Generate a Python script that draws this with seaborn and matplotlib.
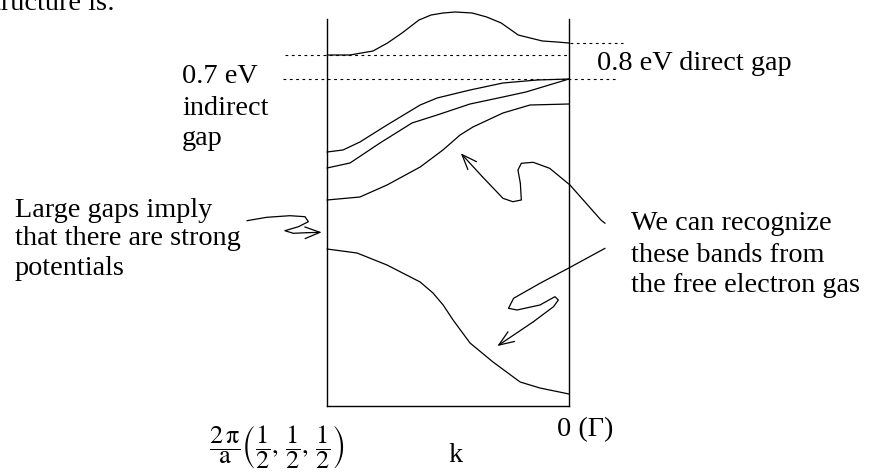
import numpy as np
import pandas as pd
import matplotlib
matplotlib.use("Agg")
import matplotlib.pyplot as plt
import seaborn as sns

# ---------------- data (k: 0 = L point, 1 = Gamma ; E: arbitrary units) -------------
band_top_k = [0.0, 0.095, 0.19, 0.25, 0.31, 0.38, 0.43, 0.48, 0.53, 0.60, 0.66, 0.72, 0.79, 0.89, 0.95, 1.0]
band_top_E = [351, 351, 355, 363, 373, 386, 391, 393, 394, 393, 389, 383, 371, 365, 364, 363]

band_v1_k = [0.0, 0.066, 0.136, 0.248, 0.385, 0.455, 0.591, 0.727, 0.868, 1.0]
band_v1_E = [254, 256, 264, 281, 301, 308, 316, 323, 326, 327]

band_v2_k = [0.0, 0.095, 0.219, 0.351, 0.455, 0.591, 0.727, 0.822, 1.0]
band_v2_E = [238, 243, 263, 283, 291, 302, 309, 314, 327]

band_v3_k = [0.0, 0.136, 0.248, 0.385, 0.479, 0.550, 0.603, 0.727, 0.839, 1.0]
band_v3_E = [206, 209, 221, 239, 256, 271, 279, 293, 301, 302]

band_low_k = [0.0, 0.124, 0.248, 0.385, 0.438, 0.480, 0.521, 0.591, 0.686, 0.798, 0.880, 1.0]
band_low_E = [157, 153, 141, 124, 113, 101, 86, 63, 44, 24, 18, 12]

# dashed reference levels (E) and their k extents
level_E = [363, 351, 327]
level_k0 = [1.004, -0.174, -0.182]
level_k1 = [1.223, 1.0, 1.198]

# hand-drawn annotation arrows (k, E)
arrow_gap_k = [-0.331, -0.249, -0.153, -0.091, -0.077, -0.118, -0.174, -0.139, -0.084, -0.022]
arrow_gap_E = [185.3, 188.7, 190.3, 189.3, 184.3, 179.3, 175.3, 172.7, 173.3, 173.7]

arrow_up_k = [1.149, 1.132, 1.004, 0.920, 0.852, 0.803, 0.789, 0.799, 0.803, 0.768, 0.727, 0.642, 0.553]
arrow_up_E = [182.7, 186.0, 221.0, 237.7, 243.7, 242.7, 236.0, 222.7, 206.0, 204.3, 207.7, 229.3, 252.7]

arrow_low_k = [1.149, 0.997, 0.880, 0.771, 0.750, 0.785, 0.880, 0.942, 0.956, 0.936, 0.853, 0.704]
arrow_low_E = [157.7, 137.7, 122.7, 107.7, 97.7, 96.0, 101.0, 109.3, 106.0, 99.3, 84.3, 60.0]

# ---------------- figure ----------------
W, H, DPI = 869, 475, 100
sns.set_theme(style="white")
plt.rcParams["font.family"] = ["Liberation Serif", "DejaVu Serif"]
plt.rcParams["mathtext.fontset"] = "stix"

fig = plt.figure(figsize=(W / DPI, H / DPI), dpi=DPI)
fig.patch.set_facecolor("white")
ax = fig.add_axes([327 / W, (H - 406) / H, 242 / W, 387 / H])
ax.set_facecolor("white")

bands = [(band_top_k, band_top_E), (band_v1_k, band_v1_E), (band_v2_k, band_v2_E),
         (band_v3_k, band_v3_E), (band_low_k, band_low_E)]
for k, e in bands:
    df = pd.DataFrame({"k": k, "E": e})
    sns.lineplot(data=df, x="k", y="E", color="black", lw=0.9, sort=False, ax=ax,
                 estimator=None)
for ln in ax.lines:
    ln.set_clip_on(False)
    ln.set_solid_joinstyle("round")

ax.set_xlim(0, 1)
ax.set_ylim(0, 387)
ax.set_xticks([])
ax.set_yticks([])
ax.set_xlabel("")
ax.set_ylabel("")
for s in ["left", "right", "bottom"]:
    ax.spines[s].set_visible(True)
    ax.spines[s].set_color("black")
    ax.spines[s].set_linewidth(1.0)
ax.spines["top"].set_visible(False)

for e, k0, k1 in zip(level_E, level_k0, level_k1):
    ax.plot([k0, k1], [e, e], color="black", lw=0.8, ls=(0, (2.5, 3.2)), clip_on=False)

arrow_kw = dict(arrowstyle="->,head_length=0.9,head_width=0.35", lw=0.9, color="black",
                shrinkA=0, shrinkB=0)
for k, e in [(arrow_gap_k, arrow_gap_E), (arrow_up_k, arrow_up_E), (arrow_low_k, arrow_low_E)]:
    ax.plot(k[:-1], e[:-1], color="black", lw=0.9, clip_on=False,
            solid_capstyle="round", solid_joinstyle="round")
    ax.annotate("", xy=(k[-1], e[-1]), xytext=(k[-2], e[-2]), xycoords="data",
                arrowprops=arrow_kw, annotation_clip=False)

FS = 20.3


def ftext(px, py, s, **kw):
    kw.setdefault("fontsize", FS)
    kw.setdefault("va", "baseline")
    kw.setdefault("ha", "left")
    fig.text(px / W, 1 - py / H, s, color="black", **kw)


ftext(115, 9.5, "structure is:", ha="right")
ftext(182, 83, "0.7 eV")
ftext(182, 115, "indirect")
ftext(182, 145, "gap")
ftext(597, 70, "0.8 eV direct gap")
ftext(15, 216.7, "Large gaps imply")
ftext(15, 245, "that there are strong")
ftext(15, 275, "potentials")
ftext(631, 230, "We can recognize")
ftext(631, 261.7, "these bands from")
ftext(631, 291.7, "the free electron gas")
ftext(455, 461.5, "k", ha="center")
ftext(557, 436, "0 (Γ)")
ftext(277, 447, r"$\dfrac{2\,\mathrm{\pi}}{\mathrm{a}}\left(\dfrac{1}{2},\,\dfrac{1}{2},\,\dfrac{1}{2}\right)$",
      va="center", ha="center", fontsize=FS * 0.93)

fig.savefig("out.png", dpi=DPI, facecolor="white")
